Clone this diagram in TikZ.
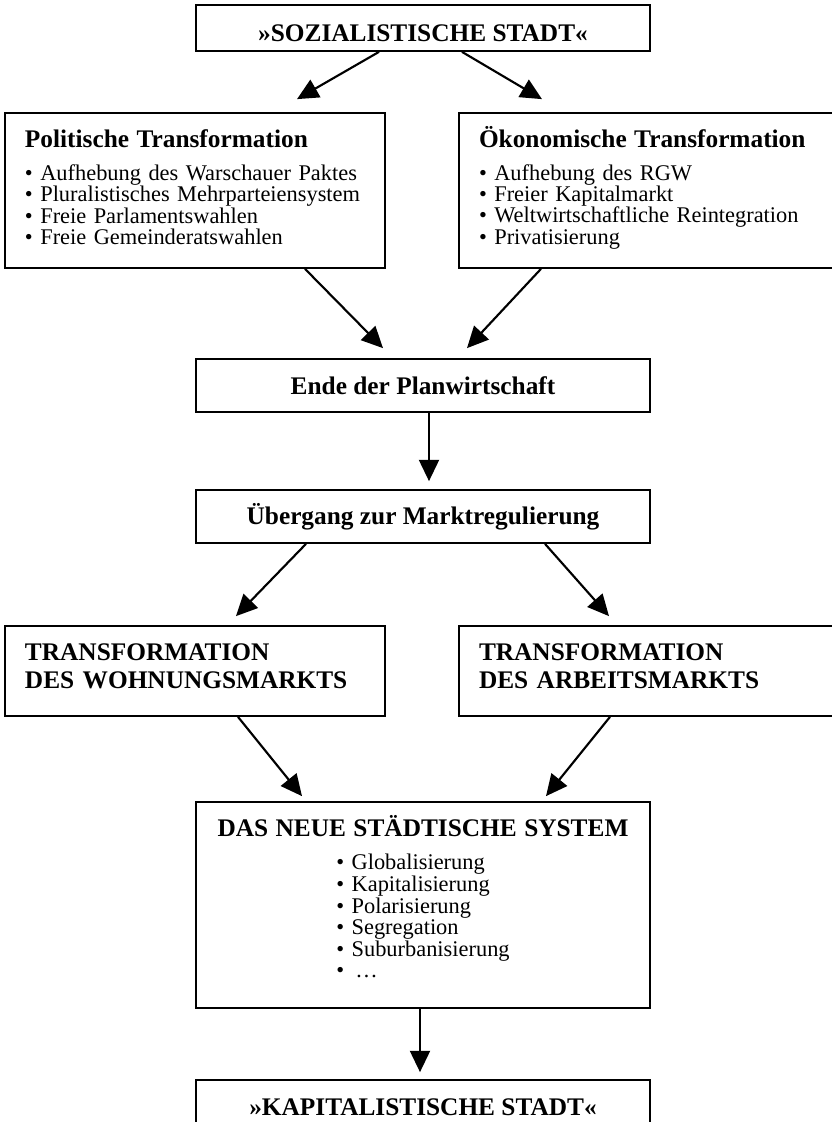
\documentclass[tikz,border=0pt]{standalone}
\usepackage{fontspec}
\setmainfont{Liberation Serif}
\usetikzlibrary{arrows.meta}
\usetikzlibrary{calc}

\begin{document}
\begin{tikzpicture}[x=0.75pt,y=-0.75pt]
            \tikzstyle{box}=[draw=black,line width=1.3pt,rectangle,inner sep=0pt]
            \tikzstyle{wide}=[box,minimum width=340.5pt]
            \tikzstyle{side}=[box,minimum width=285pt,text width=255pt,inner xsep=15pt,align=left]
            \tikzstyle{head}=[font=\fontsize{19}{21}\selectfont\bfseries]
            \tikzstyle{list}=[font=\fontsize{16.8}{16}\selectfont]
            \tikzstyle{edge}=[draw=black,line width=1.6pt,-{Triangle[length=16pt,width=15pt]}]

            \def\title#1{{\fontsize{19}{16}\selectfont\bfseries #1}}

            \useasboundingbox (0,0) rectangle (832,1122);

            \node[wide,head,minimum height=34.5pt] (top) at (423,28) {\rule{0pt}{21pt}»SOZIALISTISCHE STADT«};

            \node[side,list,minimum height=116.25pt] (polit) at (195,190.5) {\title{Politische Transformation}\\[8.75pt]
                • Aufhebung des Warschauer Paktes\\
                • Pluralistisches Mehrparteiensystem\\
                • Freie Parlamentswahlen\\
                • Freie Gemeinderatswahlen\rule[-4.9pt]{0pt}{4.9pt}};
            \node[side,list,minimum height=116.25pt] (oekon) at (649,190.5) {\title{Ökonomische Transformation}\\[8.75pt]
                • Aufhebung des RGW\\
                • Freier Kapitalmarkt\\
                • Weltwirtschaftliche Reintegration\\
                • Privatisierung\rule[-8.1pt]{0pt}{8.1pt}};

            \node[wide,head,minimum height=39.75pt] (ende) at (423,385.5) {Ende der Planwirtschaft};
            \node[wide,head,minimum height=39.75pt] (markt) at (423,516.5) {Übergang zur Marktregulierung};

            \node[side,head,minimum height=67.5pt] (wohn) at (195,671) {TRANSFORMATION\\DES WOHNUNGSMARKTS\rule[-6.75pt]{0pt}{6.75pt}};
            \node[side,head,minimum height=67.5pt] (arbeit) at (649,671) {TRANSFORMATION\\DES ARBEITSMARKTS\rule[-6.75pt]{0pt}{6.75pt}};

            \node[wide,list,minimum height=154.5pt,text width=340.5pt,align=center] (system) at (423,905) {\title{DAS NEUE STÄDTISCHE SYSTEM}\\[8.75pt]
                \begin{tabular}[t]{@{}l@{}}
                • Globalisierung\\
                • Kapitalisierung\\
                • Polarisierung\\
                • Segregation\\
                • Suburbanisierung\\
                • \,…\\[8pt]
                \end{tabular}};

            \node[wide,head,minimum height=40.5pt] (kapital) at (423,1107) {»KAPITALISTISCHE STADT«};

            \path[edge] ($(top.south)+(-44,0)$) -- ($(polit.north)+(102,-13)$);
            \path[edge] ($(top.south)+(39,0)$) -- ($(oekon.north)+(-107,-13)$);

            \path[edge] ($(polit.south)+(110,0)$) -- ($(ende.north)+(-40,-10)$);
            \path[edge] ($(oekon.south)+(-108,0)$) -- ($(ende.north)+(44,-10)$);

            \path[edge] ($(ende.south)+(6,0)$) -- ($(markt.north)+(6,-8)$);

            \path[edge] ($(markt.south)+(-117,0)$) -- ($(wohn.north)+(41,-9)$);
            \path[edge] ($(markt.south)+(122,0)$) -- ($(arbeit.north)+(-40,-9)$);

            \path[edge] ($(wohn.south)+(43,0)$) -- ($(system.north)+(-121,-5)$);
            \path[edge] ($(arbeit.south)+(-39,0)$) -- ($(system.north)+(123,-5)$);

            \path[edge] ($(system.south)+(-3,0)$) -- ($(kapital.north)+(-3,-7)$);
        \end{tikzpicture}
\end{document}
